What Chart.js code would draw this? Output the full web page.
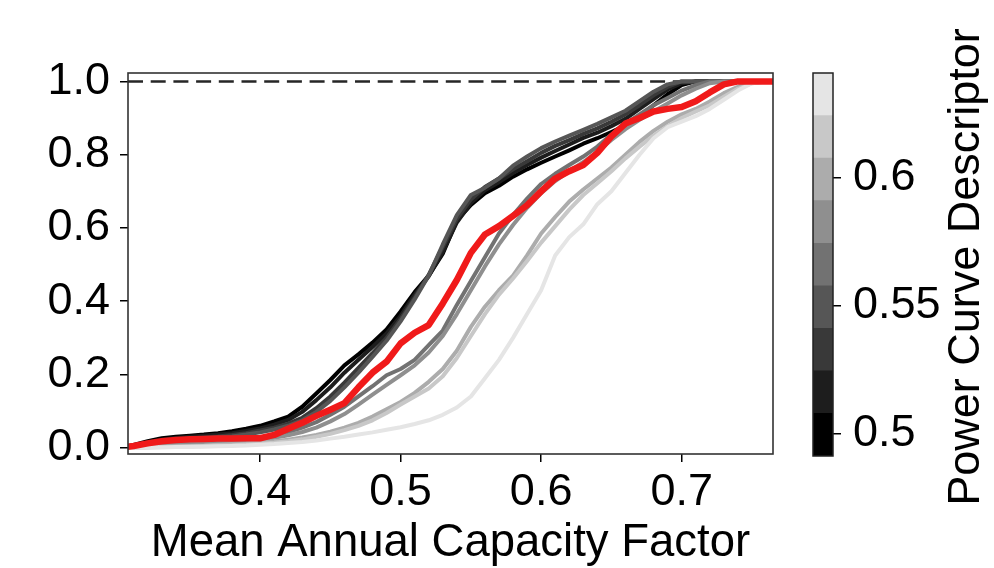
<!DOCTYPE html>
<html><head><meta charset="utf-8">
<script src="https://cdn.jsdelivr.net/npm/chart.js@4"></script>
<style>
html,body{margin:0;padding:0;background:#fff;width:994px;height:568px;overflow:hidden}
canvas{position:absolute;top:0}
#main{left:0}
#cbar{left:790px}
</style></head>
<body>
<canvas id="main" width="790" height="568"></canvas>
<canvas id="cbar" width="204" height="568"></canvas>
<script>
// ---------- data ----------
const capacityFactor = [0.30,0.31,0.32,0.33,0.34,0.35,0.36,0.37,0.38,0.39,0.40,0.41,0.42,0.43,0.44,0.45,0.46,0.47,0.48,0.49,0.50,0.51,0.52,0.53,0.54,0.55,0.56,0.57,0.58,0.59,0.60,0.61,0.62,0.63,0.64,0.65,0.66,0.67,0.68,0.69,0.70,0.71,0.72,0.73,0.74,0.75,0.76,0.77];

const cdfD0500 = [0,0.008,0.018,0.026,0.030,0.033,0.036,0.040,0.045,0.052,0.060,0.072,0.085,0.112,0.148,0.185,0.225,0.255,0.287,0.323,0.372,0.425,0.470,0.530,0.620,0.663,0.695,0.715,0.740,0.760,0.778,0.795,0.812,0.830,0.845,0.862,0.880,0.905,0.935,0.965,0.990,1,1,1,1,1,1,1];
const cdfD0516 = [0,0.006,0.015,0.022,0.027,0.030,0.033,0.036,0.040,0.046,0.053,0.063,0.076,0.098,0.130,0.165,0.205,0.240,0.275,0.312,0.360,0.418,0.468,0.535,0.615,0.668,0.703,0.725,0.750,0.772,0.792,0.810,0.828,0.846,0.860,0.878,0.898,0.925,0.952,0.978,0.995,1,1,1,1,1,1,1];
const cdfD0533 = [0,0.005,0.012,0.018,0.022,0.025,0.028,0.031,0.035,0.040,0.047,0.055,0.066,0.082,0.108,0.140,0.178,0.218,0.258,0.300,0.352,0.410,0.472,0.548,0.625,0.678,0.712,0.735,0.760,0.782,0.805,0.824,0.840,0.857,0.872,0.890,0.910,0.935,0.962,0.985,1,1,1,1,1,1,1,1];
const cdfD0550 = [0,0.004,0.010,0.015,0.019,0.022,0.025,0.028,0.031,0.036,0.042,0.050,0.060,0.075,0.098,0.128,0.165,0.205,0.248,0.292,0.345,0.405,0.470,0.555,0.635,0.690,0.710,0.735,0.770,0.795,0.818,0.836,0.852,0.868,0.884,0.902,0.920,0.946,0.972,0.992,1,1,1,1,1,1,1,1];
const cdfD0566 = [0,0.002,0.005,0.008,0.010,0.012,0.014,0.016,0.019,0.022,0.027,0.034,0.043,0.055,0.070,0.090,0.112,0.140,0.168,0.198,0.215,0.240,0.280,0.320,0.390,0.455,0.520,0.585,0.635,0.680,0.720,0.748,0.772,0.795,0.822,0.855,0.885,0.910,0.935,0.955,0.975,0.990,1,1,1,1,1,1];
const cdfD0583 = [0,0.002,0.004,0.006,0.008,0.010,0.011,0.013,0.015,0.018,0.022,0.027,0.034,0.043,0.055,0.072,0.092,0.118,0.145,0.172,0.198,0.225,0.260,0.305,0.365,0.430,0.495,0.555,0.608,0.655,0.695,0.728,0.755,0.780,0.808,0.840,0.870,0.895,0.918,0.940,0.962,0.980,0.995,1,1,1,1,1];
const cdfD0600 = [0,0.001,0.002,0.003,0.004,0.005,0.006,0.008,0.010,0.012,0.015,0.018,0.022,0.028,0.035,0.044,0.055,0.068,0.085,0.105,0.125,0.150,0.180,0.215,0.265,0.330,0.385,0.430,0.470,0.525,0.585,0.630,0.672,0.705,0.735,0.765,0.800,0.835,0.865,0.890,0.910,0.925,0.945,0.968,0.985,1,1,1];
const cdfD0616 = [0,0.001,0.001,0.002,0.003,0.004,0.005,0.006,0.007,0.009,0.011,0.014,0.018,0.023,0.030,0.038,0.048,0.060,0.075,0.095,0.118,0.140,0.162,0.195,0.245,0.305,0.365,0.418,0.462,0.510,0.560,0.605,0.650,0.690,0.722,0.755,0.790,0.822,0.852,0.878,0.900,0.918,0.935,0.958,0.980,0.995,1,1];
const cdfD0633 = [0,0,0.001,0.001,0.002,0.002,0.003,0.004,0.005,0.006,0.008,0.010,0.013,0.016,0.020,0.025,0.030,0.036,0.042,0.049,0.056,0.065,0.075,0.090,0.110,0.140,0.190,0.240,0.300,0.365,0.430,0.525,0.575,0.610,0.665,0.700,0.750,0.800,0.845,0.875,0.890,0.905,0.925,0.950,0.975,0.995,1,1];
const cdfHighlight = [0,0.005,0.012,0.018,0.021,0.023,0.024,0.025,0.025,0.026,0.026,0.035,0.052,0.068,0.087,0.104,0.122,0.165,0.205,0.235,0.285,0.314,0.335,0.394,0.458,0.532,0.582,0.605,0.633,0.662,0.700,0.735,0.755,0.772,0.805,0.850,0.885,0.900,0.918,0.925,0.930,0.946,0.970,0.992,1,1,1,1];

const grayCurves = [cdfD0500,cdfD0516,cdfD0533,cdfD0550,cdfD0566,cdfD0583,cdfD0600,cdfD0616,cdfD0633];
const descriptorValues = [0.4997,0.5163,0.5330,0.5496,0.5662,0.5828,0.5994,0.6161,0.6327];
const descriptorEdges = [0.4914,0.5080,0.5246,0.5412,0.5578,0.5744,0.5910,0.6076,0.6242,0.6408];
const grayColors = ['#000000','#1d1d1d','#393939','#565656','#727272','#8f8f8f','#acacac','#c8c8c8','#e5e5e5'];

const xTicks = [0.4,0.5,0.6,0.7];
const xTickLabels = ['0.4','0.5','0.6','0.7'];
const yTicks = [0,0.2,0.4,0.6,0.8,1.0];
const yTickLabels = ['0.0','0.2','0.4','0.6','0.8','1.0'];
const cbarTicks = [0.5,0.55,0.6];
const cbarTickLabels = ['0.5','0.55','0.6'];
const referenceLevel = 1.0;
const xLimits = [0.306,0.765];
const yLimits = [-0.017,1.023];
const xTitle = 'Mean Annual Capacity Factor';
const cbarTitle = 'Power Curve Descriptor';

// ---------- setup ----------
const FONT = '"Liberation Sans", Arial, Helvetica, sans-serif';
Chart.defaults.font.family = FONT;
Chart.defaults.color = '#000';

const framePlugin = {
  id: 'frame',
  afterDatasetsDraw(chart, args, opts) {
    const {ctx, chartArea: {left, top, right, bottom}} = chart;
    ctx.save();
    ctx.strokeStyle = opts.color || '#333';
    ctx.lineWidth = opts.width || 1.5;
    ctx.strokeRect(left, top, right - left, bottom - top);
    ctx.restore();
  }
};

const toPts = arr => arr.map((v, i) => ({x: capacityFactor[i], y: v}));

const datasets = [];
datasets.push({
  label: 'highlight', data: toPts(cdfHighlight), borderColor: '#f01a1a', borderWidth: 6.5,
  order: 0, borderJoinStyle: 'round'
});
grayCurves.forEach((arr, k) => {
  datasets.push({
    label: 'descriptor ' + descriptorValues[k], data: toPts(arr), borderColor: grayColors[k],
    borderWidth: 4, order: 9 - k + 1, borderJoinStyle: 'round'
  });
});
datasets.push({
  label: 'reference', data: [{x: xLimits[0], y: referenceLevel}, {x: xLimits[1], y: referenceLevel}],
  borderColor: '#262626', borderWidth: 2.5, borderDash: [15, 7.7], order: 20
});

new Chart(document.getElementById('main'), {
  type: 'line',
  data: {datasets},
  options: {
    responsive: false, animation: false, events: [],
    layout: {padding: {left: 0, top: 73, right: 17, bottom: 0}},
    elements: {point: {radius: 0}, line: {tension: 0, fill: false}},
    datasets: {line: {clip: 0}},
    plugins: {legend: {display: false}, tooltip: {enabled: false}, frame: {color: '#333', width: 1.6}},
    scales: {
      x: {
        type: 'linear', min: xLimits[0], max: xLimits[1],
        afterBuildTicks: s => { s.ticks = xTicks.map(v => ({value: v})); },
        afterFit: s => { s.height = 114; },
        ticks: {font: {size: 45}, padding: 4, color: '#000',
          callback: (v) => xTickLabels[xTicks.indexOf(v)] ?? ''},
        grid: {drawOnChartArea: false, drawTicks: true, tickLength: 8, color: '#000', lineWidth: 1.5},
        border: {display: false},
        title: {display: true, text: xTitle, font: {size: 45.5, lineHeight: 1.0}, padding: {top: 0, bottom: 2}, color: '#000'}
      },
      y: {
        type: 'linear', min: yLimits[0], max: yLimits[1],
        afterBuildTicks: s => { s.ticks = yTicks.map(v => ({value: v})); },
        afterFit: s => { s.width = 128; },
        ticks: {font: {size: 45}, padding: 10, color: '#000',
          callback: (v) => yTickLabels[yTicks.indexOf(v)] ?? ''},
        grid: {drawOnChartArea: false, drawTicks: true, tickLength: 8, color: '#000', lineWidth: 1.5},
        border: {display: false}
      }
    }
  },
  plugins: [framePlugin]
});

// ---------- colour bar ----------
const cbarTitlePlugin = {
  id: 'cbarTitle',
  afterDraw(chart, args, opts) {
    const {ctx} = chart;
    ctx.save();
    ctx.translate(opts.x, opts.y);
    ctx.rotate(-Math.PI / 2);
    ctx.font = '45px ' + FONT;
    ctx.fillStyle = '#000';
    ctx.textAlign = 'center';
    ctx.textBaseline = 'middle';
    ctx.fillText(opts.text, 0, 0);
    ctx.restore();
  }
};

new Chart(document.getElementById('cbar'), {
  type: 'bar',
  data: {
    labels: ['cb'],
    datasets: grayColors.map((c, k) => ({
      data: [[descriptorEdges[k], descriptorEdges[k + 1]]],
      backgroundColor: c, borderWidth: 0, grouped: false,
      barPercentage: 1, categoryPercentage: 1
    }))
  },
  options: {
    responsive: false, animation: false, events: [],
    layout: {padding: {left: 23, top: 73, right: 0, bottom: 112}},
    plugins: {legend: {display: false}, tooltip: {enabled: false},
      frame: {color: '#222', width: 1.5},
      cbarTitle: {text: cbarTitle, x: 177, y: 267}},
    scales: {
      x: {display: false},
      y: {
        type: 'linear', position: 'right', min: descriptorEdges[0], max: descriptorEdges[descriptorEdges.length - 1],
        afterBuildTicks: s => { s.ticks = cbarTicks.map(v => ({value: v})); },
        afterFit: s => { s.width = 161; },
        ticks: {font: {size: 45}, padding: 12, color: '#000',
          callback: (v) => cbarTickLabels[cbarTicks.indexOf(v)] ?? ''},
        grid: {drawOnChartArea: false, drawTicks: true, tickLength: 8, color: '#000', lineWidth: 1.5},
        border: {display: false}
      }
    }
  },
  plugins: [framePlugin, cbarTitlePlugin]
});
</script>
</body></html>
